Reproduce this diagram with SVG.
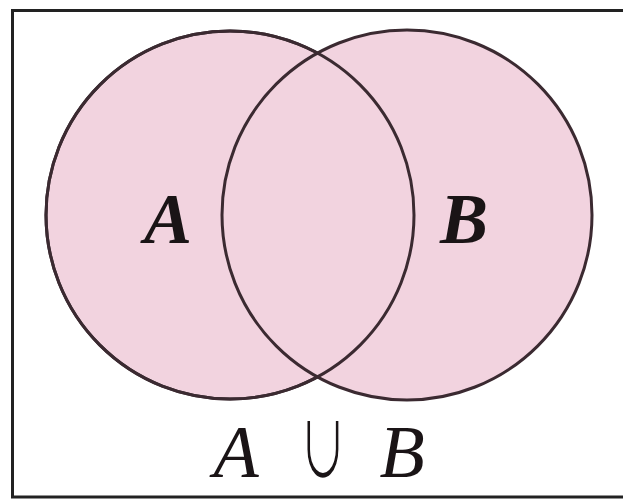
<svg xmlns="http://www.w3.org/2000/svg" width="623" height="499" viewBox="0 0 623 499">
<style>
.set{fill:#f2d3df;stroke:#3b2a31;stroke-width:3}
.lbl{font-family:'Liberation Serif',serif;font-style:italic;font-weight:bold;fill:#1a1416;text-anchor:middle}
.cap{font-family:'Liberation Serif',serif;font-style:italic;fill:#1a1416;text-anchor:middle}
.op{font-family:'DejaVu Serif',serif;fill:#1a1416;stroke:#ffffff;stroke-width:2;text-anchor:middle}
</style>
<rect x="0" y="0" width="623" height="499" fill="#ffffff"/>
<path d="M623 10.5 H12.5 V497 H623" fill="none" stroke="#222" stroke-width="3"/>
<g id="setA"><circle class="set" cx="230" cy="215" r="184"/></g>
<g id="setB"><circle class="set" cx="407" cy="215" r="185"/></g>
<g id="outlines"><circle cx="230" cy="215" r="184" fill="none" stroke="#3b2a31" stroke-width="3"/></g>
<g id="labelA"><text class="lbl" x="168" y="243" font-size="72">A</text></g>
<g id="labelB"><text class="lbl" x="464" y="243" font-size="72">B</text></g>
<g id="caption">
<text class="cap" x="236" y="477" font-size="74">A</text>
<text class="op" transform="translate(323 478) scale(0.72 1.32)" x="0" y="0" font-size="72">∪</text>
<text class="cap" x="402" y="477" font-size="74">B</text>
</g>
</svg>
